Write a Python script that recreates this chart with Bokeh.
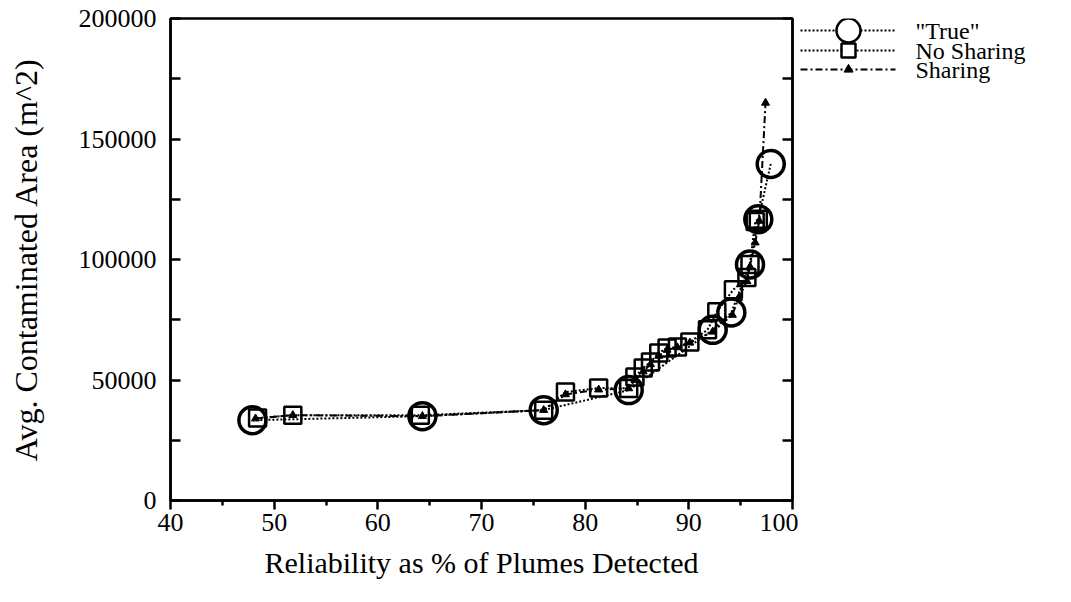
from bokeh.plotting import figure
from bokeh.layouts import row
from bokeh.models import (Range1d, LinearAxis, FixedTicker, NumeralTickFormatter)
from bokeh.core.properties import value
from bokeh.embed import file_html
from bokeh.resources import INLINE

# ---- data ----
true_x = [47.9, 64.3, 76.0, 84.2, 92.3, 94.1, 95.9, 96.7, 97.9]
true_y = [33300, 35000, 37500, 45800, 70800, 78000, 97900, 116700, 139600]

nosh_x = [48.4, 51.8, 64.1, 76.0, 78.1, 81.3, 84.2, 84.8, 85.6, 86.3, 87.1,
          87.9, 88.9, 90.1, 91.8, 92.7, 94.3, 95.6, 95.9, 96.4, 96.7]
nosh_y = [34200, 35400, 35400, 37500, 45000, 46700, 46500, 51200, 55000, 57500,
          61200, 63300, 63700, 65800, 70800, 78300, 87500, 92500, 97900, 115800, 116700]

shar_x = [48.2, 51.8, 64.3, 76.0, 78.1, 81.3, 84.2, 84.8, 85.6, 86.3, 87.1,
          87.9, 88.9, 90.1, 92.3, 94.2, 94.8, 95.6, 95.9, 96.4, 96.8, 97.4]
shar_y = [34000, 35400, 35000, 37500, 44000, 46000, 46500, 50000, 53500, 56500,
          60000, 62500, 63500, 65500, 70000, 77000, 84000, 91000, 97000, 107000,
          116000, 165000]

series_labels = ['"True"', "No Sharing", "Sharing"]

x_ticks = [40, 50, 60, 70, 80, 90, 100]
x_minor = [45, 55, 65, 75, 85, 95]
y_ticks = [0, 50000, 100000, 150000, 200000]
y_minor = [25000, 75000, 125000, 175000]

FONT = "Liberation Serif"
DOT = "2 2"
DASHDOT = "7 3 2 3"

P_WIDTH = 798
FRAME_TOP, FRAME_BOTTOM = 18, 500
p = figure(width=P_WIDTH, height=602, output_backend="svg", toolbar_location=None,
           x_range=Range1d(40, 100), y_range=Range1d(0, 200000),
           min_border_left=170, min_border_right=6, min_border_top=FRAME_TOP,
           min_border_bottom=602 - FRAME_BOTTOM)
p.grid.visible = False
p.background_fill_color = "white"
p.border_fill_color = "white"
p.outline_line_color = "black"
p.outline_line_width = 2.5

# lines
p.line(true_x, true_y, line_color="black", line_width=2, line_dash=DOT)
p.line(nosh_x, nosh_y, line_color="black", line_width=2, line_dash=DOT)
p.line(shar_x, shar_y, line_color="black", line_width=2, line_dash=DASHDOT)

# markers
p.scatter(true_x, true_y, marker="circle", size=27, fill_color=None,
          line_color="black", line_width=3.5)
p.scatter(nosh_x, nosh_y, marker="square", size=17, fill_color=None,
          line_color="black", line_width=2.5)
p.scatter(shar_x, shar_y, marker="triangle", size=8, fill_color="black",
          line_color="black", line_width=1)

# axes
xa = p.xaxis[0]
xa.ticker = FixedTicker(ticks=x_ticks, minor_ticks=x_minor)
xa.major_tick_in = 0
xa.major_tick_out = 9
xa.minor_tick_in = 0
xa.minor_tick_out = 5
xa.axis_label = "Reliability as % of Plumes Detected"

ya = p.yaxis[0]
ya.ticker = FixedTicker(ticks=y_ticks, minor_ticks=y_minor)
ya.formatter = NumeralTickFormatter(format="0")
ya.major_tick_in = 10
ya.major_tick_out = 0
ya.minor_tick_in = 10
ya.minor_tick_out = 0
ya.axis_label = "Avg. Contaminated Area (m^2)"

for ax in (xa, ya):
    ax.axis_line_width = 2.5
    ax.major_tick_line_width = 2.5
    ax.minor_tick_line_width = 2.5
    ax.major_label_text_font = FONT
    ax.major_label_text_font_size = "26px"
    ax.major_label_text_color = "black"
    ax.axis_label_text_font = FONT
    ax.axis_label_text_font_style = "normal"
    ax.axis_label_text_color = "black"
    ax.axis_line_color = "black"
    ax.major_tick_line_color = "black"
    ax.minor_tick_line_color = "black"

xa.axis_label_text_font_size = "30px"
ya.axis_label_text_font_size = "32px"
xa.major_label_standoff = 4
xa.axis_label_standoff = 12
ya.major_label_standoff = 14
ya.axis_label_standoff = 32

ra = LinearAxis(ticker=FixedTicker(ticks=y_ticks, minor_ticks=y_minor),
                major_label_overrides={t: "" for t in y_ticks},
                major_label_standoff=0,
                axis_line_width=2.5,
                major_tick_in=10, major_tick_out=0, minor_tick_in=10, minor_tick_out=0,
                major_tick_line_width=2.5, minor_tick_line_width=2.5,
                axis_line_color="black", major_tick_line_color="black",
                minor_tick_line_color="black")
p.add_layout(ra, "right")

# ---- legend panel: a small key figure to the right of the plot ----
# (its frame is aligned with the main plot's frame by the row layout, so its
#  y range is set to screen pixels FRAME_TOP..FRAME_BOTTOM)
LW = 1071 - P_WIDTH
lf = figure(width=LW, height=602, output_backend="svg", toolbar_location=None,
            x_range=Range1d(0, LW), y_range=Range1d(FRAME_BOTTOM, FRAME_TOP),
            x_axis_type=None, y_axis_type=None,
            min_border_left=0, min_border_right=0, min_border_top=FRAME_TOP,
            min_border_bottom=602 - FRAME_BOTTOM)
lf.grid.visible = False
lf.outline_line_color = None
lf.background_fill_color = "white"
lf.border_fill_color = "white"

# key layout (screen-like units inside the key panel)
key_rows = [30, 50, 69]
key_x0, key_x1, key_mid, key_text = 2, 97, 50, 117
key_dash = [DOT, DOT, DASHDOT]
key_marker = ["circle", "square", "triangle"]
key_size = [24, 14, 9]
key_lw = [2.5, 2.5, 1]
key_fill = ["white", "white", "black"]

for i, lab in enumerate(series_labels):
    yk = key_rows[i]
    lf.segment(x0=[key_x0], y0=[yk], x1=[key_x1], y1=[yk], line_color="black",
               line_width=2, line_dash=key_dash[i])
    lf.scatter(x=[key_mid], y=[yk], marker=key_marker[i], size=key_size[i],
               fill_color=key_fill[i], line_color="black", line_width=key_lw[i])
    lf.text(x=[key_text], y=[yk], text=[lab], text_font=value(FONT),
            text_font_size="24px", text_baseline="middle", text_align="left",
            text_color="black")

layout = row(p, lf, spacing=0)
open("out.html", "w").write(file_html(layout, INLINE))
